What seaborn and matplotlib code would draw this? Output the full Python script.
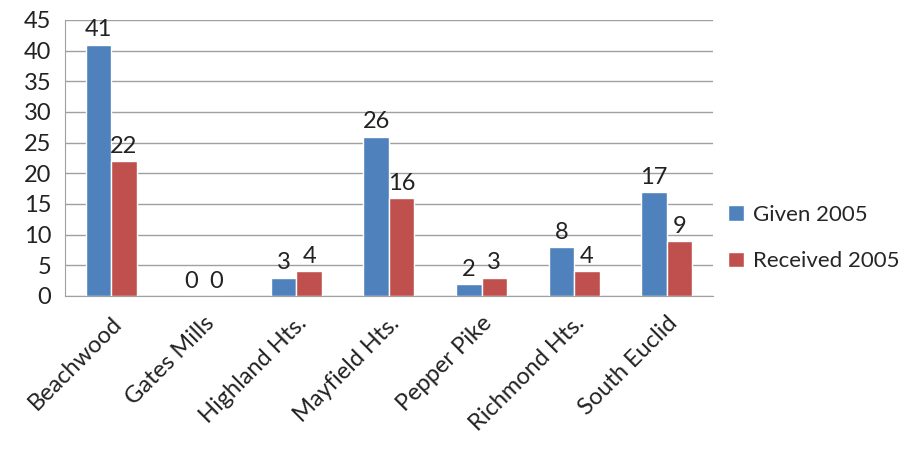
import matplotlib
matplotlib.use("Agg")
import matplotlib.pyplot as plt
import pandas as pd
import seaborn as sns

cities = ["Beachwood", "Gates Mills", "Highland Hts.", "Mayfield Hts.",
          "Pepper Pike", "Richmond Hts.", "South Euclid"]
given = [41, 0, 3, 26, 2, 8, 17]
received = [22, 0, 4, 16, 3, 4, 9]
series = ["Given 2005", "Received 2005"]
colors = ["#4F81BD", "#C0504D"]

df = pd.DataFrame({
    "city": cities * 2,
    "value": given + received,
    "series": [series[0]] * len(cities) + [series[1]] * len(cities),
})

sns.set_style("white")
plt.rcParams["font.family"] = ["Lato", "DejaVu Sans"]

fig = plt.figure(figsize=(9.23, 4.51), dpi=100)
ax = fig.add_axes([0.0704, 0.3437, 0.702, 0.612])

sns.barplot(data=df, x="city", y="value", hue="series", palette=colors,
            width=0.55, saturation=1, ax=ax, legend=True)

for cont in ax.containers:
    ax.bar_label(cont, fmt="%d", padding=3, fontsize=17, color="#222222")

ax.set_ylim(0, 45)
ax.set_yticks(range(0, 46, 5))
ax.yaxis.grid(True, color="#A0A0A0", linewidth=1)
ax.set_axisbelow(True)
ax.set_xlabel("")
ax.set_ylabel("")
for s in ["top", "right"]:
    ax.spines[s].set_visible(False)
for s in ["left", "bottom"]:
    ax.spines[s].set_color("#A0A0A0")
ax.tick_params(axis="y", length=0, labelsize=17, colors="#222222", pad=10)
ax.tick_params(axis="x", length=0, labelsize=17, colors="#222222", pad=12)
plt.setp(ax.get_xticklabels(), rotation=45, ha="right", rotation_mode="anchor")

ax.legend(loc="center left", bbox_to_anchor=(1.0, 0.21), frameon=False,
          borderaxespad=0.3, fontsize=16, handlelength=0.7, handleheight=0.7,
          labelspacing=1.2, handletextpad=0.4)

fig.savefig("out.png", dpi=100)
